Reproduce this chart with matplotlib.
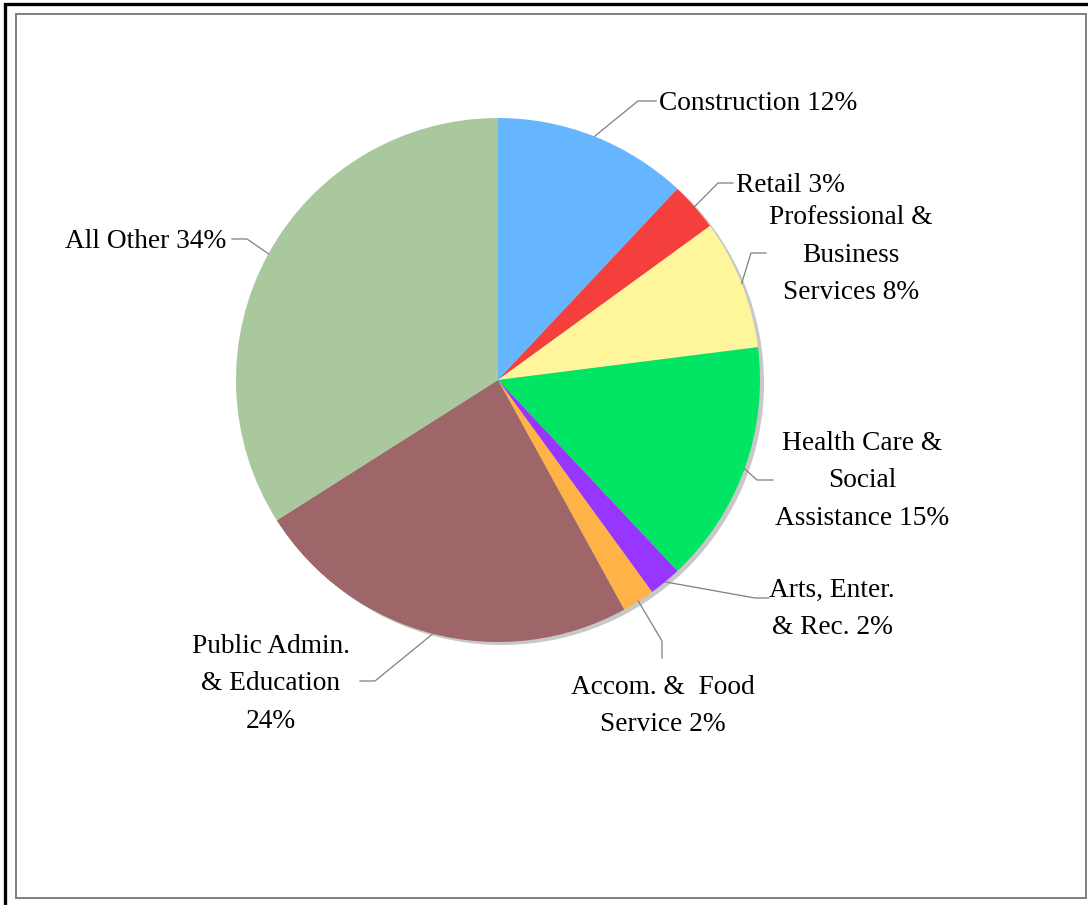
import numpy as np
import matplotlib.pyplot as plt
from matplotlib.patches import Rectangle, Circle

# industry shares (percent), clockwise from 12 o'clock
sectors = ['Construction', 'Retail', 'Professional & Business Services',
           'Health Care & Social Assistance', 'Arts, Enter. & Rec.',
           'Accom. & Food Service', 'Public Admin. & Education', 'All Other']
shares = [12, 3, 8, 15, 2, 2, 24, 34]
labels = ['Construction 12%', 'Retail 3%', 'Professional &\nBusiness\nServices 8%',
          'Health Care &\nSocial\nAssistance 15%', 'Arts, Enter.\n& Rec. 2%',
          'Accom. &  Food\nService 2%', 'Public Admin.\n& Education\n24%',
          'All Other 34%']
colors = ['#66b5ff', '#f53f3c', '#fff59a', '#00e564', '#9636ff',
          '#ffb347', '#9e6668', '#a9c89e']

W, H = 1088, 905
plt.rcParams['font.family'] = ['Liberation Serif', 'DejaVu Serif']

fig = plt.figure(figsize=(W / 100, H / 100), dpi=100)
ax = fig.add_axes([0, 0, 1, 1])

# y measured from the top of the canvas
def Y(y):
    return H - y

cx, cy, r = 498, Y(380), 262

# drop shadow behind the pie
ax.add_patch(Circle((cx + 4, cy - 3), r, fc='#c8c8c8', ec='none', zorder=1))

wedges, _ = ax.pie(shares, colors=colors, startangle=90, counterclock=False,
                   center=(cx, cy), radius=r, frame=True,
                   wedgeprops=dict(linewidth=0, zorder=2))
ax.set_xlim(0, W)
ax.set_ylim(0, H)
ax.axis('off')

# frames
ax.add_patch(Rectangle((5, Y(910)), 1092, 906, fill=False, ec='black', lw=2.4, clip_on=False))
ax.add_patch(Rectangle((15.5, Y(897.5)), 1070, 883.5, fill=False, ec='#7f7f7f', lw=1.4))

# label text position, alignment, leader elbow and leader end
layout = [
    ((659, 104), 'left', (638, 101), (656, 101)),
    ((736, 186), 'left', (718, 183), (733, 183)),
    ((851, 255), 'center', (751, 253), (766, 253)),
    ((862, 481), 'center', (757, 480), (773, 480)),
    ((832, 609), 'center', (755, 598), (769, 598)),
    ((663, 706), 'center', (662, 641), (662, 658)),
    ((271, 684), 'center', (375, 681), (360, 681)),
    ((226, 242), 'right', (247, 239), (232, 239)),
]

for w, lab, (pos, ha, elbow, end) in zip(wedges, labels, layout):
    a = np.deg2rad((w.theta1 + w.theta2) / 2)
    ex, ey = cx + r * np.cos(a), cy + r * np.sin(a)
    ax.plot([ex, elbow[0], end[0]], [ey, Y(elbow[1]), Y(end[1])],
            color='#7f7f7f', lw=0.9, zorder=3)
    ax.text(pos[0], Y(pos[1]), lab, ha=ha, va='center', multialignment='center',
            fontsize=19.7, linespacing=1.65, color='black', zorder=4)

fig.savefig('out.png', dpi=100)
